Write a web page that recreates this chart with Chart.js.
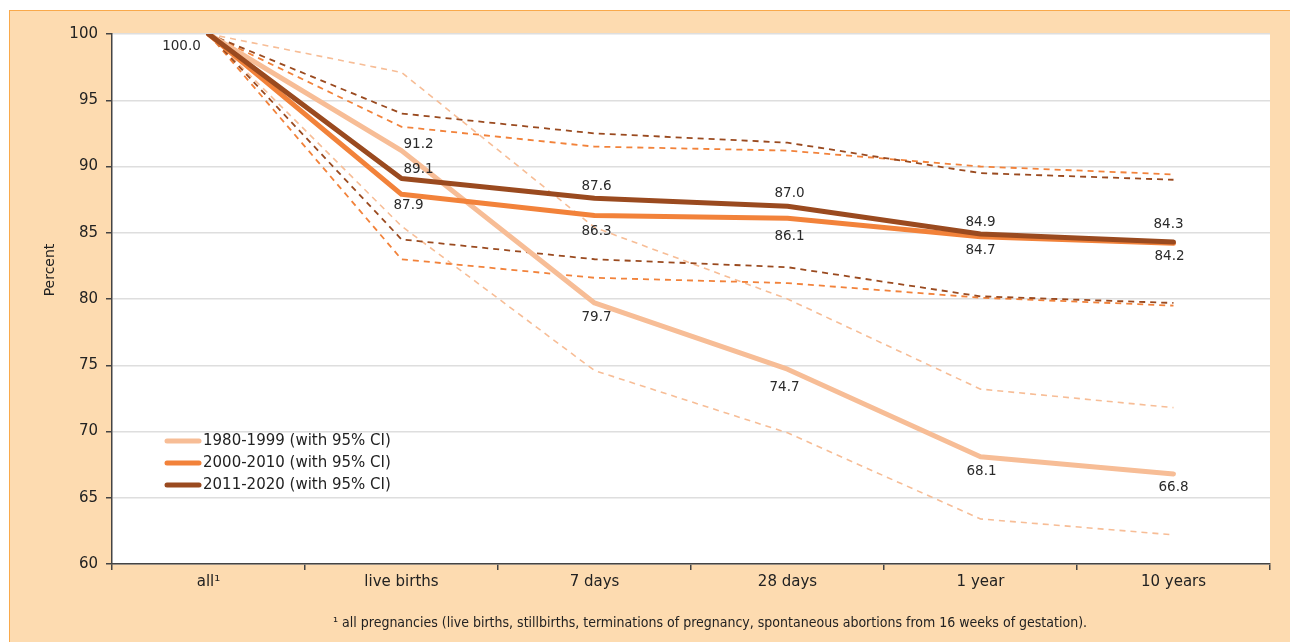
<!DOCTYPE html>
<html>
<head>
<meta charset="utf-8">
<script src="https://cdn.jsdelivr.net/npm/chart.js@4"></script>
<style>
  html, body { margin: 0; padding: 0; background: #fff; }
  #wrap { position: relative; width: 1290px; height: 642px; overflow: hidden; }
  #box { position: absolute; left: 9px; top: 10px; right: 0; bottom: 0; background: #fddbb0;
         border-top: 1px solid #f9a94b; border-left: 1px solid #f9a94b; }
  #chart { position: absolute; left: 0; top: 0; }
  #note { position: absolute; left: 333px; top: 614px; font-family: "DejaVu Sans Condensed", "DejaVu Sans", sans-serif;
          font-size: 14px; color: #222; white-space: nowrap; }
</style>
</head>
<body>
<div id="wrap">
  <div id="box"></div>
  <canvas id="chart" width="1290" height="642"></canvas>
  <div id="note">¹ all pregnancies (live births, stillbirths, terminations of pregnancy, spontaneous abortions from 16 weeks of gestation).</div>
</div>
<script>
const categories = ['all¹', 'live births', '7 days', '28 days', '1 year', '10 years'];
const yTicks = [60, 65, 70, 75, 80, 85, 90, 95, 100];

const p1980 = [100.0, 91.2, 79.7, 74.7, 68.1, 66.8];
const p1980Upper = [100, 97.1, 85.4, 80.0, 73.2, 71.8];
const p1980Lower = [100, 85.5, 74.6, 69.9, 63.4, 62.2];

const p2000 = [100.0, 87.9, 86.3, 86.1, 84.7, 84.2];
const p2000Upper = [100, 93.0, 91.5, 91.2, 90.0, 89.4];
const p2000Lower = [100, 83.0, 81.6, 81.2, 80.1, 79.5];

const p2011 = [100.0, 89.1, 87.6, 87.0, 84.9, 84.3];
const p2011Upper = [100, 94.0, 92.5, 91.8, 89.5, 89.0];
const p2011Lower = [100, 84.5, 83.0, 82.4, 80.2, 79.7];

const light = '#f7bd96';
const orange = '#f2823a';
const brown = '#9a4a1f';
const font = 'DejaVu Sans';

// label offsets (px) from each point, per main line
const labelOffsets = {
  '2011-2020 (with 95% CI)': [null, [17, -9], [2, -12], [2, -13], [0, -12], [-5, -18]],
  '2000-2010 (with 95% CI)': [null, [7, 11], [2, 16], [2, 18], [0, 14], [-4, 13]],
  '1980-1999 (with 95% CI)': [[-27, 12], [17, -6], [2, 15], [-3, 18], [1, 15], [0, 14]]
};

function main(label, data, color) {
  return { label: label, data: data, borderColor: color, borderWidth: 5, borderCapStyle: 'round',
           borderJoinStyle: 'round', pointRadius: 0, tension: 0, fill: false };
}
function ci(data, color, w) {
  return { label: '', data: data, borderColor: color, borderWidth: w, borderDash: [6, 5],
           pointRadius: 0, tension: 0, fill: false };
}

const whiteArea = {
  id: 'whiteArea',
  beforeDraw(chart) {
    const a = chart.chartArea, c = chart.ctx;
    c.save();
    c.fillStyle = '#fff';
    c.fillRect(a.left, a.top, a.right - a.left, a.bottom - a.top);
    c.restore();
  }
};

const extras = {
  id: 'extras',
  afterDraw(chart) {
    const c = chart.ctx;
    c.save();
    // data labels
    c.font = '13.5px "' + font + '"';
    c.fillStyle = '#2a2a2a';
    c.textAlign = 'center';
    c.textBaseline = 'middle';
    chart.data.datasets.forEach((ds, i) => {
      const offs = labelOffsets[ds.label];
      if (!offs) return;
      chart.getDatasetMeta(i).data.forEach((pt, j) => {
        if (!offs[j]) return;
        c.fillText(ds.data[j].toFixed(1), pt.x + offs[j][0], pt.y + offs[j][1]);
      });
    });
    // y title
    c.save();
    c.translate(50, 270);
    c.rotate(-Math.PI / 2);
    c.font = '14px "' + font + '"';
    c.fillStyle = '#222';
    c.fillText('Percent', 0, 0);
    c.restore();
    // legend
    const items = [['1980-1999 (with 95% CI)', light], ['2000-2010 (with 95% CI)', orange], ['2011-2020 (with 95% CI)', brown]];
    c.font = '15px "' + font + '"';
    c.textAlign = 'left';
    items.forEach((it, k) => {
      const y = 441 + k * 22;
      c.strokeStyle = it[1];
      c.lineWidth = 5;
      c.lineCap = 'round';
      c.beginPath();
      c.moveTo(167, y);
      c.lineTo(199, y);
      c.stroke();
      c.fillStyle = '#222';
      c.fillText(it[0], 203, y);
    });
    c.restore();
  }
};

new Chart(document.getElementById('chart'), {
  type: 'line',
  data: {
    labels: categories,
    datasets: [
      main('2011-2020 (with 95% CI)', p2011, brown),
      main('2000-2010 (with 95% CI)', p2000, orange),
      main('1980-1999 (with 95% CI)', p1980, light),
      ci(p2011Upper, brown, 1.8),
      ci(p2011Lower, brown, 1.8),
      ci(p2000Upper, orange, 1.8),
      ci(p2000Lower, orange, 1.8),
      ci(p1980Upper, light, 1.6),
      ci(p1980Lower, light, 1.6)
    ]
  },
  options: {
    responsive: false,
    animation: false,
    layout: { padding: { top: 34, right: 20, left: 0, bottom: 0 } },
    plugins: { legend: { display: false }, tooltip: { enabled: false } },
    scales: {
      x: {
        offset: true,
        grid: { drawOnChartArea: false, drawTicks: true, tickLength: 6, tickColor: '#444', lineWidth: 1.5, offset: true },
        border: { color: '#444', width: 1.5 },
        ticks: { font: { family: font, size: 15 }, color: '#222', padding: 3, maxRotation: 0 },
        afterFit(scale) { scale.height = 78; }
      },
      y: {
        min: 60, max: 100,
        afterBuildTicks(scale) { scale.ticks = yTicks.map(v => ({ value: v })); },
        grid: { color: '#dedede', lineWidth: 1.5, tickLength: 6, tickColor: '#444' },
        border: { color: '#444', width: 1.5 },
        ticks: { font: { family: font, size: 15 }, color: '#222', padding: 8 },
        afterFit(scale) { scale.width = 112; }
      }
    }
  },
  plugins: [whiteArea, extras]
});
</script>
</body>
</html>
